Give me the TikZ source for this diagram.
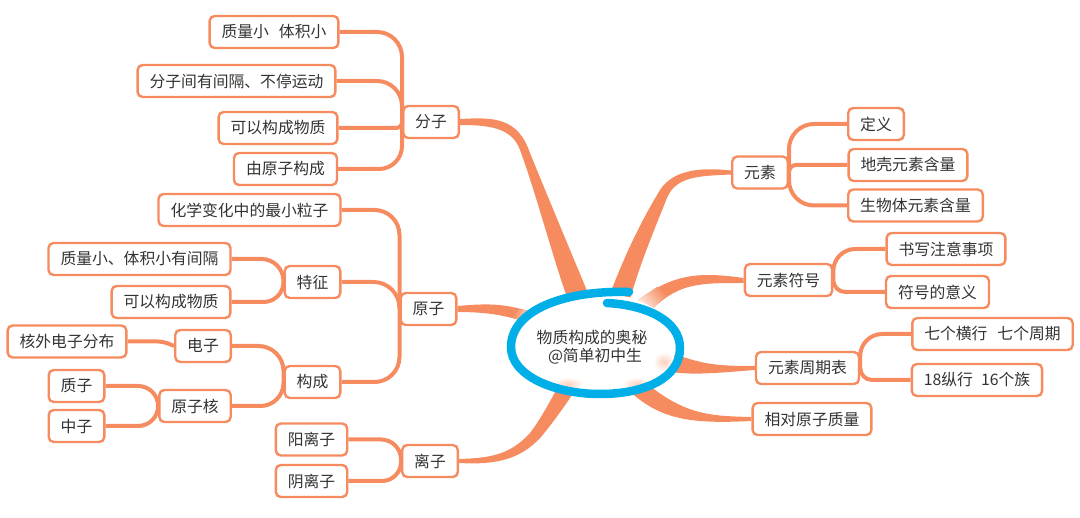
\documentclass[tikz,border=0pt]{standalone}
\usepackage{fontspec}
\setmainfont{Noto Sans CJK SC}
\usetikzlibrary{shapes.geometric, positioning, backgrounds}
\definecolor{branchcol}{HTML}{F68B5F}
\definecolor{ringcol}{HTML}{00AEE8}
\definecolor{textcol}{HTML}{333333}
\tikzset{
	topic/.style={rectangle, rounded corners=5pt, minimum height=32pt, inner xsep=12pt, inner ysep=0pt, draw=branchcol, line width=2.4pt, fill=white, text=textcol, font=\fontsize{15.8}{18}\selectfont},
	branch/.style={fill=branchcol},
	fadeend/.style={top color=branchcol, bottom color=branchcol!20!white},
	link/.style={draw=branchcol, line width=4pt, rounded corners=#1},
	link/.default=25pt,
	ring/.style={draw=ringcol, line width=8.5pt, line cap=round},
	glow/.style={inner color=branchcol!40!white, outer color=white}
}
\begin{document}
\begin{tikzpicture}[x=1pt, y=-1pt, on grid]
		\useasboundingbox (0,0) rectangle (1080,518);
		
		% Centre
		\node (root) [ellipse, fill=white, minimum width=164pt, minimum height=100pt, inner sep=0pt] at (595,343) {};
		\node (title) [text=textcol, font=\fontsize{15.8}{18}\selectfont, align=center] at ([xshift=-3pt,yshift=-4pt]root.center) {物质构成的奥秘\\\hspace{6pt}@简单初中生};
		
		% Left side nodes
		\node (fenzi) [topic, above left=221pt and 164pt of root] {分子};
		\node (tiji) [topic, above left=90pt and 157pt of fenzi] {质量小\hspace{10pt}体积小};
		\node (jiange) [topic, above left=41pt and 194.5pt of fenzi] {分子间有间隔、不停运动};
		\node (gouzhi) [topic, below left=6pt and 153pt of fenzi] {可以构成物质};
		\node (youyuan) [topic, below left=47pt and 145.5pt of fenzi] {由原子构成};
		
		\node (yuanzi) [topic, above left=34pt and 166.5pt of root] {原子};
		\node (huaxue) [topic, above left=99pt and 179pt of yuanzi] {化学变化中的最小粒子};
		\node (tezheng) [topic, above left=27pt and 116pt of yuanzi] {特征};
		\node (goucheng) [topic, below left=73pt and 116pt of yuanzi] {构成};
		\node (youjiange) [topic, above left=23pt and 173pt of tezheng] {质量小、体积小有间隔};
		\node (gouzhib) [topic, below left=20pt and 141.5pt of tezheng] {可以构成物质};
		\node (dianzi) [topic, above left=36pt and 109.5pt of goucheng] {电子};
		\node (yuanzihe) [topic, below left=24pt and 117.5pt of goucheng] {原子核};
		\node (hewai) [topic, above left=4.5pt and 136pt of dianzi] {核外电子分布};
		\node (zhizi) [topic, above left=20pt and 118.5pt of yuanzihe] {质子};
		\node (zhongzi) [topic, below left=20pt and 118.5pt of yuanzihe] {中子};
		
		\node (lizi) [topic, below left=118pt and 165pt of root] {离子};
		\node (yangli) [topic, above left=21.5pt and 118.5pt of lizi] {阳离子};
		\node (yinli) [topic, below left=20pt and 118.5pt of lizi] {阴离子};
		
		% Right side nodes
		\node (yuansu) [topic, above right=170.5pt and 165pt of root] {元素};
		\node (dingyi) [topic, above right=48.5pt and 116pt of yuansu] {定义};
		\node (diqiao) [topic, above right=7.5pt and 148pt of yuansu] {地壳元素含量};
		\node (shengwu) [topic, below right=33pt and 155.5pt of yuansu] {生物体元素含量};
		
		\node (fuhao) [topic, above right=63pt and 193.5pt of root] {元素符号};
		\node (shuxie) [topic, above right=31pt and 157.5pt of fuhao] {书写注意事项};
		\node (yiyi) [topic, below right=12pt and 149pt of fuhao] {符号的意义};
		
		\node (zhouqi) [topic, below right=25pt and 212.5pt of root] {元素周期表};
		\node (hengxing) [topic, above right=34pt and 185pt of zhouqi] {七个横行\hspace{10pt}七个周期};
		\node (zongxing) [topic, below right=12pt and 169.5pt of zhouqi] {18纵行\hspace{8pt}16个族};
		
		\node (xiangdui) [topic, below right=76pt and 217pt of root] {相对原子质量};
		
		% Thick branches from the centre
		\begin{pgfonlayer}{background}
			\fill [branch] ([yshift=3pt]fenzi.east) .. controls (495,117) and (518,118) .. (530,153) .. controls (545,190) and (570,250) .. (root.98) -- (root.121) .. controls (555,265) and (535,190) .. (520,150) .. controls (512,128) and (490,125) .. ([yshift=-3pt]fenzi.east) -- cycle;
			\fill [branch] ([yshift=3pt]yuanzi.east) .. controls (490,303) and (505,304) .. (root.154) -- (root.163) .. controls (505,316) and (490,312) .. ([yshift=-3pt]yuanzi.east) -- cycle;
			\fill [branch] ([yshift=2pt]lizi.east) .. controls (490,458) and (510,455) .. (530,433) .. controls (540,420) and (548,405) .. (root.-130) -- (root.-113) .. controls (562,410) and (551,425) .. (541,437) .. controls (520,460) and (495,465) .. ([yshift=-2pt]lizi.east) -- cycle;
			\fill [branch] ([yshift=2pt]yuansu.west) .. controls (700,167) and (673,170) .. (660,190) .. controls (640,223) and (625,255) .. (root.73) -- (root.52) .. controls (640,265) and (650,240) .. (667,198) .. controls (676,176) and (700,176) .. ([yshift=-2pt]yuansu.west) -- cycle;
			\fill [branch] ([yshift=2pt]fuhao.west) .. controls (700,272) and (675,273) .. (root.45) -- (root.31) .. controls (680,283) and (700,283) .. ([yshift=-3pt]fuhao.west) -- cycle;
			\fill [branch] ([yshift=2pt]zhouqi.west) .. controls (720,366) and (705,365) .. (root.-8) -- (root.-22) .. controls (690,376) and (715,373) .. ([yshift=-2pt]zhouqi.west) -- cycle;
			\fill [branch] ([yshift=2pt]xiangdui.west) .. controls (710,416) and (685,415) .. (root.-38) -- (root.-55) .. controls (660,420) and (690,424) .. ([yshift=-2pt]xiangdui.west) -- cycle;
			% Faded ends
			\shade [fadeend, shading angle=-50] (657,287) -- (667,295) -- (root.31) -- (root.45) -- cycle;
			\shade [fadeend, shading angle=70] (519,309) -- (513,318) -- (root.163) -- (root.154) -- cycle;
		\end{pgfonlayer}
		
		% Thin links
		\draw [link] (tiji.east) -| (fenzi.west);
		\draw [link] (jiange.east) -| (fenzi.west);
		\draw [link=5pt] (gouzhi.east) -| (fenzi.west);
		\draw [link=23pt] (youyuan.east) -| (fenzi.west);
		\draw [link] (huaxue.east) -| (yuanzi.west);
		\draw [link=26pt] (tezheng.east) -| (yuanzi.west);
		\draw [link] (goucheng.east) -| (yuanzi.west);
		\draw [link=22pt] (youjiange.east) -| (tezheng.west);
		\draw [link=20pt] (gouzhib.east) -| (tezheng.west);
		\draw [link] (dianzi.east) -| (goucheng.west);
		\draw [link=23pt] (yuanzihe.east) -| (goucheng.west);
		\draw [link=6pt] (hewai.east) -- ++(36,0) -- (dianzi.west);
		\draw [link=20pt] (zhizi.east) -| (yuanzihe.west);
		\draw [link=20pt] (zhongzi.east) -| (yuanzihe.west);
		\draw [link=20pt] (yangli.east) -| (lizi.west);
		\draw [link=19pt] (yinli.east) -| (lizi.west);
		\draw [link] (dingyi.west) -| (yuansu.east);
		\draw [link=7pt] (diqiao.west) -| (yuansu.east);
		\draw [link=25pt] (shengwu.west) -| (yuansu.east);
		\draw [link=22pt] (shuxie.west) -| (fuhao.east);
		\draw [link=12pt] (yiyi.west) -| (fuhao.east);
		\draw [link=22pt] (hengxing.west) -| (zhouqi.east);
		\draw [link=12pt] (zongxing.west) -| (zhouqi.east);
		
		% Ring round the centre
		\shade [glow] (664,362) ellipse (11 and 10);
		\shade [glow] (637,384) ellipse (15 and 7);
		\shade [glow] (568,384) ellipse (15 and 7);
		\draw [ring] (629,292) .. controls (565,290) and (511,310) .. (511,347) .. controls (511,376) and (555,394) .. (600,394) .. controls (645,394) and (680,378) .. (680,348) .. controls (680,320) and (645,305) .. (607,303);
		
	\end{tikzpicture}
\end{document}
